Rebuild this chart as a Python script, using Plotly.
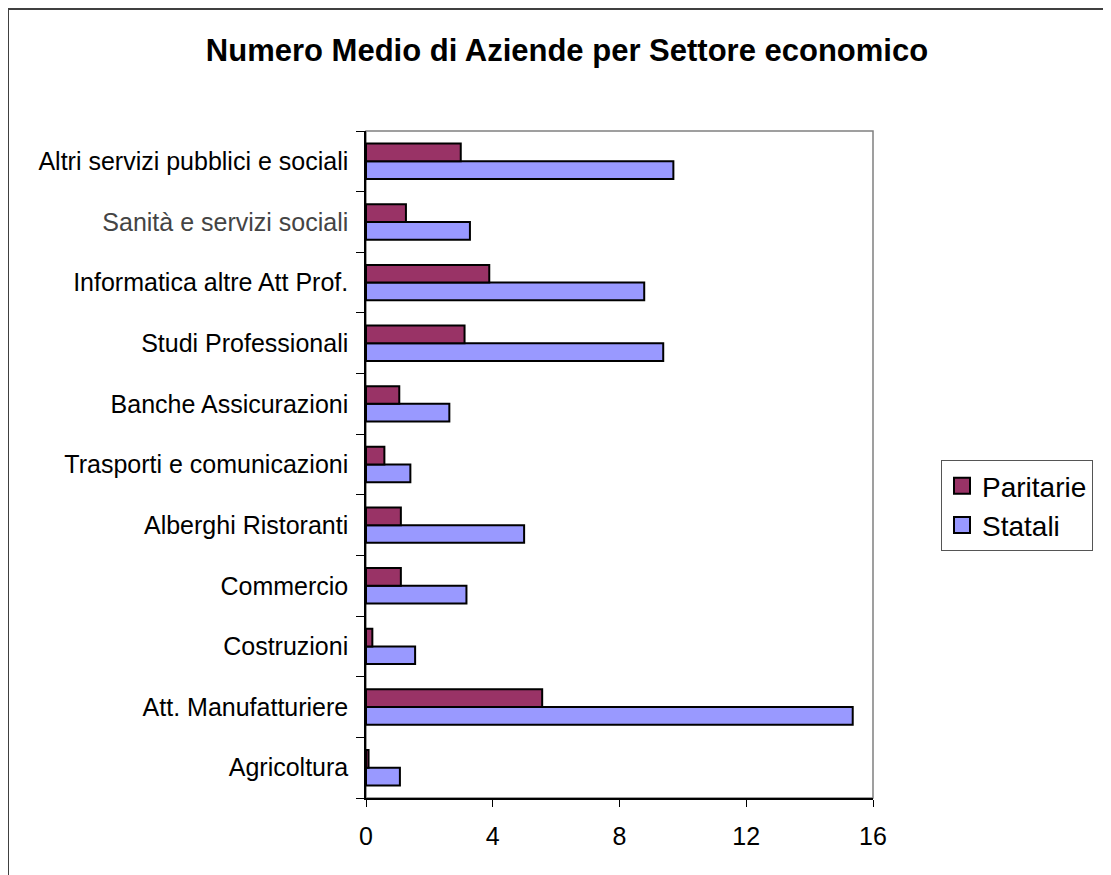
import plotly.graph_objects as go

categories = [
    "Agricoltura",
    "Att. Manufatturiere",
    "Costruzioni",
    "Commercio",
    "Alberghi Ristoranti",
    "Trasporti e comunicazioni",
    "Banche Assicurazioni",
    "Studi Professionali",
    "Informatica altre Att Prof.",
    "Sanità e servizi sociali",
    "Altri servizi pubblici e sociali",
]
paritarie = [0.08, 5.56, 0.20, 1.10, 1.10, 0.58, 1.05, 3.11, 3.89, 1.26, 2.99]
statali = [1.07, 15.36, 1.55, 3.17, 4.99, 1.40, 2.63, 9.38, 8.78, 3.28, 9.70]
x_ticks = [0, 4, 8, 12, 16]

COL_PAR = "#993366"
COL_STA = "#9999FF"

# page body has an 8px margin: work in page pixels, then offset
OFF = 8
W, H = 1111 - OFF, 875 - OFF
L, R, T, B = 366 - OFF, 873 - OFF, 131 - OFF, 798 - OFF

FONT = "Liberation Sans, Arial, sans-serif"

ticktext = [
    '<span style="color:#444444">%s</span>' % c if c.startswith("Sanit") else c
    for c in categories
]


def px_x(p):
    return (p - OFF - L) / (R - L)


def px_y(p):
    return (B - (p - OFF)) / (B - T)


fig = go.Figure()
fig.add_trace(go.Bar(
    y=categories, x=statali, name="Statali", orientation="h",
    marker=dict(color=COL_STA, line=dict(color="black", width=2)),
    showlegend=False,
))
fig.add_trace(go.Bar(
    y=categories, x=paritarie, name="Paritarie", orientation="h",
    marker=dict(color=COL_PAR, line=dict(color="black", width=2)),
    showlegend=False,
))
# legend entries (square swatches like the original)
for name, col in [("Paritarie", COL_PAR), ("Statali", COL_STA)]:
    fig.add_trace(go.Scatter(
        x=[None], y=[None], mode="markers", name=name,
        marker=dict(symbol="square", size=18, color=col,
                    line=dict(color="black", width=2)),
        showlegend=True,
    ))

fig.update_layout(
    width=W, height=H,
    margin=dict(l=L, r=W - R, t=T, b=H - B, pad=0),
    paper_bgcolor="white", plot_bgcolor="white",
    barmode="group", bargap=0.416, bargroupgap=0,
    font=dict(family=FONT, size=25, color="black"),
    title=dict(
        text="<b>Numero Medio di Aziende per Settore economico</b>",
        x=(567 - OFF) / W, xanchor="center", xref="container",
        y=(H - (50 - OFF)) / H, yanchor="middle", yref="container",
        font=dict(family=FONT, size=31, color="black"),
    ),
    legend=dict(
        x=px_x(941), xanchor="left", y=px_y(460), yanchor="top",
        traceorder="normal",
        bordercolor="#555555", borderwidth=1, bgcolor="white",
        font=dict(family=FONT, size=28, color="black"),
        itemwidth=30, tracegroupgap=0, itemsizing="trace",
    ),
    showlegend=True,
    shapes=[
        dict(type="rect", xref="paper", yref="paper",
             x0=0, x1=1, y0=0, y1=1,
             line=dict(color="#808080", width=1.5), layer="below"),
        dict(type="rect", xref="paper", yref="paper",
             x0=px_x(8), x1=px_x(1120), y0=px_y(890), y1=px_y(9),
             line=dict(color="#404040", width=2), layer="below"),
    ],
)

fig.update_xaxes(
    range=[0, 16], tickvals=x_ticks, ticktext=[str(v) for v in x_ticks],
    showgrid=False, zeroline=False,
    showline=True, linecolor="black", linewidth=1.5,
    ticks="outside", ticklen=7, tickwidth=1.2, tickcolor="black",
    tickfont=dict(family=FONT, size=25, color="black"),
    ticklabelstandoff=8,
)
fig.update_yaxes(
    type="category", categoryorder="array", categoryarray=categories,
    tickvals=categories, ticktext=ticktext,
    tickson="boundaries",
    showgrid=False, zeroline=False,
    showline=True, linecolor="black", linewidth=1.5,
    ticks="outside", ticklen=8, tickwidth=1.2, tickcolor="black",
    tickfont=dict(family=FONT, size=25, color="black"),
    ticklabelstandoff=11,
)

fig.write_html("out.html")
